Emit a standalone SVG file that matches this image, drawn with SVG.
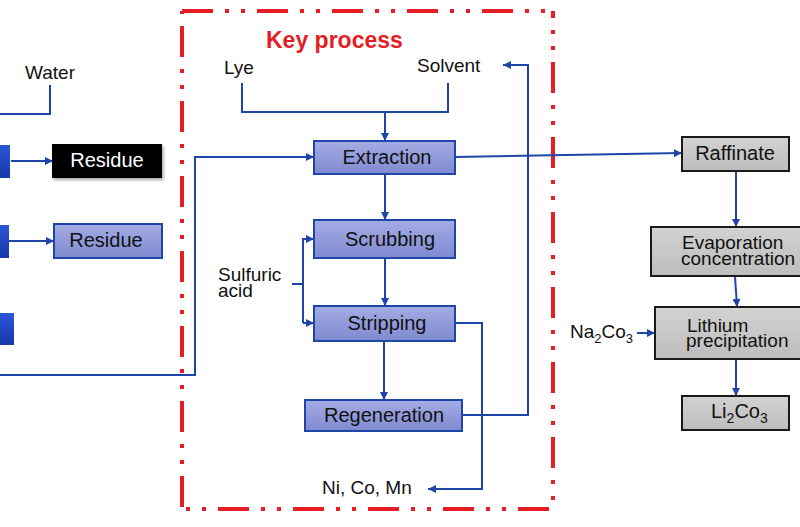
<svg xmlns="http://www.w3.org/2000/svg" width="800" height="527" viewBox="0 0 800 527">
<defs>
<linearGradient id="gBlue" x1="0" y1="0" x2="0" y2="1">
<stop offset="0" stop-color="#a4ace4"/>
<stop offset="1" stop-color="#7f8ad0"/>
</linearGradient>
<linearGradient id="gDeep" x1="0" y1="0" x2="0" y2="1">
<stop offset="0" stop-color="#2c57d8"/>
<stop offset="1" stop-color="#1638a8"/>
</linearGradient>
<linearGradient id="gGray" x1="0" y1="0" x2="0" y2="1">
<stop offset="0" stop-color="#d2d2d2"/>
<stop offset="1" stop-color="#bdbdbd"/>
</linearGradient>
<filter id="sh" x="-10%" y="-10%" width="130%" height="140%">
<feDropShadow dx="1.5" dy="2" stdDeviation="1.5" flood-color="#000" flood-opacity="0.35"/>
</filter>
<marker id="ah" viewBox="0 0 10 10" refX="10" refY="5" markerUnits="userSpaceOnUse" markerWidth="9" markerHeight="8" orient="auto">
<path d="M0,0 L10,5 L0,10 z" fill="#1f45a8"/>
</marker>
<style>
text{font-family:"Liberation Sans",Arial,Helvetica,sans-serif;fill:#111;}
.lb{font-size:20px;}
.sm{font-size:19px;}
.bx{fill:url(#gBlue);stroke:#1f45a8;stroke-width:2;}
.gx{fill:url(#gGray);stroke:#1a1a1a;stroke-width:2;}
.dp{fill:url(#gDeep);stroke:none;}
.ln{fill:none;stroke:#1f45a8;stroke-width:2;}
.ar{fill:none;stroke:#1f45a8;stroke-width:2;marker-end:url(#ah);}
.rd{fill:none;stroke:#e51d24;stroke-width:4;stroke-dasharray:31 12 4 12 4 12;}
</style>
</defs>

<g id="key-process-frame">
<path class="rd" d="M182,11 H553"/>
<path class="rd" d="M182,509 H553" stroke-dashoffset="39"/>
<path class="rd" d="M182,11 V509" stroke-dashoffset="60"/>
<path class="rd" d="M553,11 V509" stroke-dashoffset="24"/>
<text x="266" y="48" style="font-size:23px;font-weight:bold;fill:#e51d24;">Key process</text>
</g>

<g id="connectors">
<path class="ln" d="M50,85 V114 H0"/>
<path class="ar" d="M11,161 H53"/>
<path class="ar" d="M9,241 H54"/>
<path class="ar" d="M0,375 H195 V157 H314"/>
<path class="ln" d="M242,83 V112 H448 V83"/>
<path class="ar" d="M385,112 V141"/>
<path class="ar" d="M385,174 V220"/>
<path class="ar" d="M385,258 V306"/>
<path class="ar" d="M384,341 V400"/>
<path class="ln" d="M292,284 H303"/>
<path class="ar" d="M303,323 V239 H314"/>
<path class="ar" d="M303,323 H314"/>
<path class="ar" d="M462,415 H528 V65 H503"/>
<path class="ar" d="M455,323 H482 V489 H428"/>
<path class="ar" d="M455,157 L682,153"/>
<path class="ar" d="M736,171 V227"/>
<path class="ar" d="M735,276 L737,307"/>
<path class="ar" d="M637,333 H655"/>
<path class="ar" d="M736,359 V396"/>
</g>

<g id="water"><text class="sm" x="25" y="79">Water</text></g>
<g id="feed-1"><rect class="dp" x="-5" y="145" width="15" height="33"/></g>
<g id="feed-2"><rect class="dp" x="-5" y="225" width="14" height="33"/></g>
<g id="feed-3"><rect class="dp" x="-5" y="313" width="19" height="32"/></g>

<g id="residue-black">
<rect x="52" y="144" width="110" height="34" fill="#050505" filter="url(#sh)"/>
<text class="lb" x="107" y="167" text-anchor="middle" style="fill:#fff;">Residue</text>
</g>
<g id="residue-blue">
<rect class="bx" x="54" y="224" width="108" height="34"/>
<text class="lb" x="106" y="247" text-anchor="middle">Residue</text>
</g>

<g id="lye"><text class="sm" x="224" y="74">Lye</text></g>
<g id="solvent"><text class="sm" x="417" y="72">Solvent</text></g>

<g id="extraction">
<rect class="bx" x="314" y="141" width="141" height="33"/>
<text class="lb" x="387" y="164" text-anchor="middle">Extraction</text>
</g>
<g id="scrubbing">
<rect class="bx" x="314" y="220" width="141" height="38"/>
<text class="lb" x="390" y="246" text-anchor="middle">Scrubbing</text>
</g>
<g id="sulfuric-acid">
<text class="sm" x="218" y="281">Sulfuric</text>
<text class="sm" x="218" y="297">acid</text>
</g>
<g id="stripping">
<rect class="bx" x="314" y="306" width="141" height="35"/>
<text class="lb" x="387" y="330" text-anchor="middle">Stripping</text>
</g>
<g id="regeneration">
<rect class="bx" x="305" y="400" width="157" height="31"/>
<text class="lb" x="384" y="422" text-anchor="middle">Regeneration</text>
</g>
<g id="ni-co-mn"><text class="sm" x="322" y="494">Ni, Co, Mn</text></g>

<g id="raffinate">
<rect class="gx" x="682" y="137" width="107" height="34"/>
<text class="lb" x="735" y="160" text-anchor="middle">Raffinate</text>
</g>
<g id="evaporation">
<rect class="gx" x="651" y="227" width="160" height="49"/>
<text class="sm" x="682" y="249">Evaporation</text>
<text class="sm" x="681" y="265">concentration</text>
</g>
<g id="na2co3">
<text class="sm" x="570" y="338">Na<tspan dy="5" style="font-size:13px;">2</tspan><tspan dy="-5">Co</tspan><tspan dy="5" style="font-size:13px;">3</tspan></text>
</g>
<g id="lithium-precipitation">
<rect class="gx" x="655" y="307" width="160" height="52"/>
<text class="sm" x="687" y="332">Lithium</text>
<text class="sm" x="686" y="347">precipitation</text>
</g>
<g id="li2co3">
<rect class="gx" x="682" y="396" width="107" height="34"/>
<text class="lb" x="711" y="418">Li<tspan dy="5" style="font-size:14px;">2</tspan><tspan dy="-5">Co</tspan><tspan dy="5" style="font-size:14px;">3</tspan></text>
</g>
</svg>
